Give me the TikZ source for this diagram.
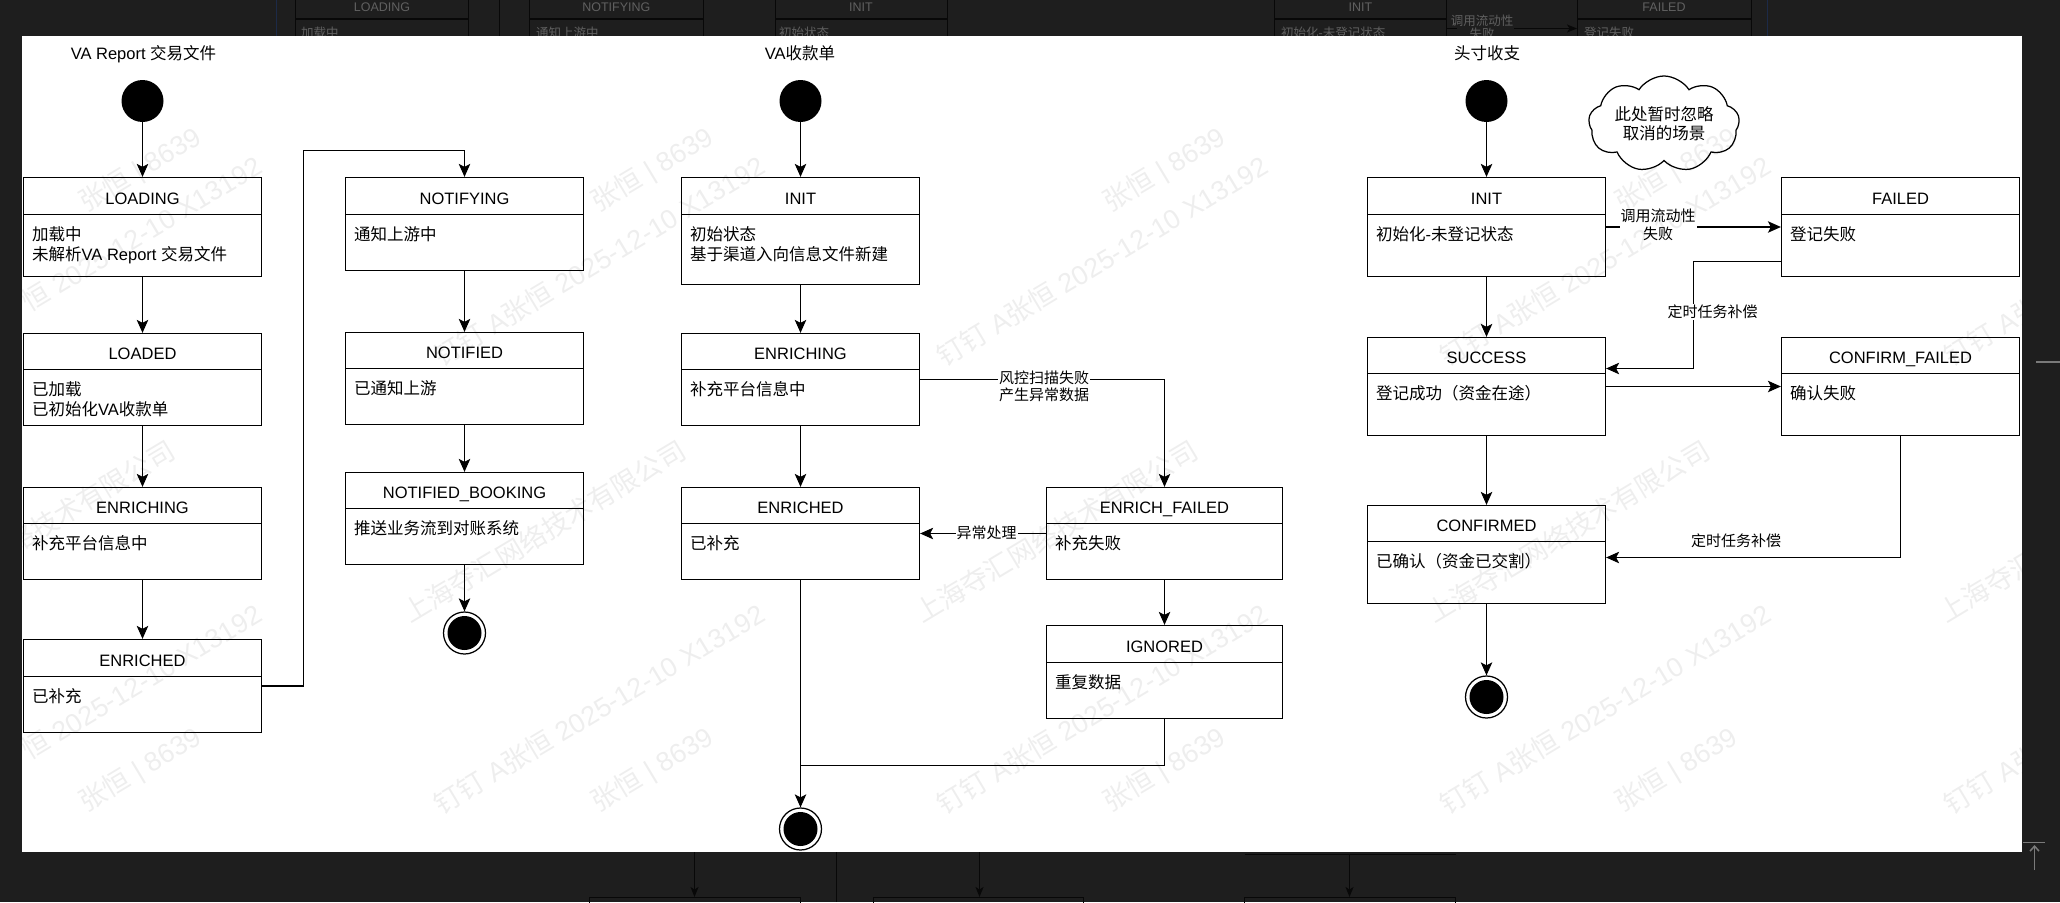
\documentclass[tikz,border=0pt]{standalone}
\usepackage{fontspec}
\setmainfont{Liberation Sans}
\newfontfamily\zhfont{Noto Sans CJK SC}
\newcommand\Z[1]{{\zhfont #1}}
\usetikzlibrary{arrows.meta,shapes.symbols}
\definecolor{bgdark}{HTML}{1E1E1E}
\definecolor{remline}{HTML}{080808}
\definecolor{remtext}{HTML}{606060}
\definecolor{remblue}{HTML}{1C2A48}
\definecolor{remicon}{HTML}{7A7A7A}
\tikzset{
  stbox/.style={draw=black, line width=1.25pt, fill=white, inner sep=0pt},
  divline/.style={draw=black, line width=1.25pt},
  sttitle/.style={anchor=base, inner sep=0pt, font=\fontsize{16.5}{19.8}\selectfont},
  stbody/.style={anchor=base west, inner sep=0pt, font=\fontsize{16.5}{19.8}\selectfont},
  ttl/.style={anchor=base, inner sep=0pt, font=\fontsize{16.5}{19.8}\selectfont},
  conn/.style={draw=black, line width=1.15pt, -{Stealth[length=13pt,width=11.5pt,inset=3pt]}},
  plainconn/.style={draw=black, line width=1.15pt},
  elabel/.style={fill=white, inner sep=1pt, align=center, font=\fontsize{15}{17.5}\selectfont},
  startst/.style={circle, fill=black, minimum size=42pt, inner sep=0pt},
  endst/.style={circle, draw=black, line width=1.25pt, fill=white, minimum size=42pt, inner sep=0pt,
    path picture={\fill[black] (path picture bounding box.center) circle (17pt);}},
  rembox/.style={draw=remline, line width=1.5pt},
  remt/.style={text=remtext, inner sep=0pt, font=\fontsize{12.5}{15}\selectfont},
  remarrow/.style={draw=remline, line width=1.5pt, -{Stealth[length=10pt,width=8pt,inset=2.5pt]}},
  wm/.style={rotate=31, anchor=east, inner sep=0pt, text=black, text opacity=0.065, font=\fontsize{27}{30}\selectfont},
}
\newcommand\statebox[9]{%
  \node[stbox, minimum width={#4-#2}, minimum height={#5-#3}] (#1) at ({(#2+#4)/2},{(#3+#5)/2}) {};
  \draw[divline] (#2,#6) -- (#4,#6);
  \node[sttitle] (#1t) at ({(#2+#4)/2},{(#3+#6)/2+8}) {#7};
  \node[stbody] (#1a) at (#2+8.5,#6+25.7) {#8};
  \if\relax\detokenize{#9}\relax\else
  \node[stbody] (#1b) at (#2+8.5,#6+45.7) {#9};\fi
}
\begin{document}
\begin{tikzpicture}[x=1pt,y=-1pt]
\useasboundingbox (0,0) rectangle (2060,902);
\fill[bgdark] (0,0) rectangle (2060,902);
% ---------- background remnants (top) ----------
\draw[remblue, line width=1.3pt] (276.5,0) -- (276.5,40);
\draw[remblue, line width=1.3pt] (1767.5,0) -- (1767.5,40);
\draw[rembox] (295.5,-5) rectangle (468.5,40); \draw[rembox] (295.5,19) -- (468.5,19);
\draw[remline, line width=1.5pt] (499.5,0) -- (499.5,40);
\draw[rembox] (529.5,-5) rectangle (703.5,40); \draw[rembox] (529.5,19) -- (703.5,19);
\draw[rembox] (775.5,-5) rectangle (947.5,40); \draw[rembox] (775.5,19) -- (947.5,19);
\draw[rembox] (1274.5,-5) rectangle (1446.5,40); \draw[rembox] (1274.5,19) -- (1446.5,19);
\draw[rembox] (1577.5,-5) rectangle (1751.5,40); \draw[rembox] (1577.5,19) -- (1751.5,19);
\node[remt] (rt1) at (382,7.5) {LOADING};
\node[remt, anchor=west] (rt2) at (301,33) {\Z{加载中}};
\node[remt] (rt3) at (616.3,7.5) {NOTIFYING};
\node[remt, anchor=west] (rt4) at (536,33) {\Z{通知上游中}};
\node[remt] (rt5) at (861,7.5) {INIT};
\node[remt, anchor=west] (rt6) at (779,33) {\Z{初始状态}};
\node[remt] (rt7) at (1360.5,7.5) {INIT};
\node[remt, anchor=west] (rt8) at (1281,33) {\Z{初始化}-\Z{未登记状态}};
\node[remt] (rt9) at (1664,7.5) {FAILED};
\node[remt, anchor=west] (rt10) at (1584,33) {\Z{登记失败}};
\node[remt] (rt11) at (1482,20.7) {\Z{调用流动性}};
\node[remt] (rt12) at (1482,34) {\Z{失败}};
\coordinate (ra1) at (1446.5,28.5);
\coordinate (ra2) at (1457,28.5);
\coordinate (ra3) at (1514,28.5);
\draw[remline, line width=1.5pt] (ra1) -- (ra2);
\draw[remarrow] (ra3) -- (1577,28.5);
% ---------- background remnants (bottom) ----------
\draw[remarrow] (694.5,850) -- (694.5,897);
\draw[rembox] (589.5,897.5) rectangle (800.5,910);
\draw[remline, line width=1.5pt] (836.5,850) -- (836.5,902);
\draw[remarrow] (979.5,850) -- (979.5,897);
\draw[rembox] (873.5,897.5) rectangle (1083.5,910);
\draw[remline, line width=1.5pt] (1244.5,854.5) -- (1455.5,854.5);
\draw[remarrow] (1349.5,854.5) -- (1349.5,897);
\draw[rembox] (1244.5,897.5) rectangle (1455.5,910);
\draw[remicon, line width=2pt] (2036,362) -- (2060,362);
\draw[remicon, line width=1.5pt] (2023,842.5) -- (2045,842.5);
\draw[remicon, line width=1.5pt, -{Straight Barb[length=5pt,width=9pt]}] (2034.5,870) -- (2034.5,845);
% ---------- canvas ----------
\fill[white] (22,36) rectangle (2022,852);
% ---------- titles ----------
\node[ttl] (title1) at (143.5,59) {VA Report \Z{交易文件}};
\node[ttl] (title2) at (800,59) {VA\Z{收款单}};
\node[ttl] (title3) at (1487,59) {\Z{头寸收支}};
% ---------- column 1 ----------
\statebox{loading}{23.5}{177.5}{261.5}{276.5}{214.5}{LOADING}{\Z{加载中}}{\Z{未解析}VA Report \Z{交易文件}}
\statebox{loaded}{23.5}{333.5}{261.5}{425.5}{369.5}{LOADED}{\Z{已加载}}{\Z{已初始化}VA\Z{收款单}}
\statebox{enrichingA}{23.5}{487.5}{261.5}{579.5}{523.5}{ENRICHING}{\Z{补充平台信息中}}{}
\statebox{enrichedA}{23.5}{639.5}{261.5}{732.5}{676.5}{ENRICHED}{\Z{已补充}}{}
\statebox{notifying}{345.5}{177.5}{583.5}{270.5}{214.5}{NOTIFYING}{\Z{通知上游中}}{}
\statebox{notified}{345.5}{332.5}{583.5}{424.5}{368.5}{NOTIFIED}{\Z{已通知上游}}{}
\statebox{booking}{345.5}{472.5}{583.5}{564.5}{508.5}{NOTIFIED\_BOOKING}{\Z{推送业务流到对账系统}}{}
\node[startst] (s1) at (142.5,101) {};
\node[endst] (e1) at (464.5,633) {};
\draw[conn] (s1.south) -- (loading.north);
\draw[conn] (loading.south) -- (loaded.north);
\draw[conn] (loaded.south) -- (enrichingA.north);
\draw[conn] (enrichingA.south) -- (enrichedA.north);
\coordinate (r1) at (303.5,150.5);
\draw[conn] (enrichedA.east) -| (r1) -| (notifying.north);
\draw[conn] (notifying.south) -- (notified.north);
\draw[conn] (notified.south) -- (booking.north);
\draw[conn] (booking.south) -- (e1.north);
% ---------- column 2 ----------
\statebox{initB}{681.5}{177.5}{919.5}{284.5}{214.5}{INIT}{\Z{初始状态}}{\Z{基于渠道入向信息文件新建}}
\statebox{enrichingB}{681.5}{333.5}{919.5}{425.5}{369.5}{ENRICHING}{\Z{补充平台信息中}}{}
\statebox{enrichedB}{681.5}{487.5}{919.5}{579.5}{523.5}{ENRICHED}{\Z{已补充}}{}
\statebox{efailed}{1046.5}{487.5}{1282.5}{579.5}{523.5}{ENRICH\_FAILED}{\Z{补充失败}}{}
\statebox{ignored}{1046.5}{625.5}{1282.5}{718.5}{662.5}{IGNORED}{\Z{重复数据}}{}
\node[startst] (s2) at (800.5,101) {};
\node[endst] (e2) at (800.5,829) {};
\draw[conn] (s2.south) -- (initB.north);
\draw[conn] (initB.south) -- (enrichingB.north);
\draw[conn] (enrichingB.south) -- (enrichedB.north);
\draw[conn] (enrichingB.east) -| (efailed.north);
\node[elabel] (lb1) at (1044,386.4) {\Z{风控扫描失败}\\\Z{产生异常数据}};
\draw[conn] (efailed.west) -- (enrichedB.east);
\node[elabel] (lb2) at (986.6,533.3) {\Z{异常处理}};
\draw[conn] (efailed.south) -- (ignored.north);
\draw[conn] (enrichedB.south) -- (e2.north);
\coordinate (j2) at (800.5,765.5);
\draw[plainconn] (ignored.south) |- (j2);
% ---------- column 3 ----------
\statebox{initC}{1367.5}{177.5}{1605.5}{276.5}{214.5}{INIT}{\Z{初始化}-\Z{未登记状态}}{}
\statebox{failedC}{1781.5}{177.5}{2019.5}{276.5}{214.5}{FAILED}{\Z{登记失败}}{}
\statebox{success}{1367.5}{337.5}{1605.5}{435.5}{373.5}{SUCCESS}{\Z{登记成功（资金在途）}}{}
\statebox{cfailed}{1781.5}{337.5}{2019.5}{435.5}{373.5}{CONFIRM\_FAILED}{\Z{确认失败}}{}
\statebox{confirmed}{1367.5}{505.5}{1605.5}{603.5}{541.5}{CONFIRMED}{\Z{已确认（资金已交割）}}{}
\node[startst] (s3) at (1486.5,101) {};
\node[endst] (e3) at (1486.5,697) {};
\node[cloud, draw=black, line width=1.25pt, fill=white, cloud puffs=9, cloud puff arc=115,
      cloud ignores aspect, minimum width=151pt, minimum height=96pt, inner sep=0pt,
      align=center, font=\fontsize{16.5}{19}\selectfont] (note) at (1664,124) {\Z{此处暂时忽略}\\\Z{取消的场景}};
\draw[conn] (s3.south) -- (initC.north);
\draw[conn] (initC.east) -- (failedC.west);
\node[elabel] (lb3) at (1658,225) {\Z{调用流动性}\\\Z{失败}};
\draw[conn] (initC.south) -- (success.north);
\coordinate (r3a) at (1693.5,261.5);
\coordinate (r3b) at (1693.5,368.5);
\draw[conn] (failedC.west |- r3a) -- (r3a) -- (r3b) -- (success.east |- r3b);
\node[elabel] (lb4) at (1712.6,311.7) {\Z{定时任务补偿}};
\draw[conn] (success.east) -- (cfailed.west);
\draw[conn] (success.south) -- (confirmed.north);
\coordinate (r3c) at (1900.5,557.5);
\draw[conn] (cfailed.south) -- (r3c) -- (confirmed.east |- r3c);
\node[elabel] (lb5) at (1736,540.7) {\Z{定时任务补偿}};
\draw[conn] (confirmed.south) -- (e3.north);
% ---------- watermarks ----------
\begin{scope}
\clip (22,36) rectangle (2022,852);
\foreach \wy in {163,611}{
  \node[wm] (wma-0-\wy) at (259,\wy) {\Z{恒} 2025-12-10 X13192};
  \foreach \wx in {762,1265,1768}{
    \node[wm] (wma-\wx-\wy) at (\wx,\wy) {\Z{钉钉} A\Z{张恒} 2025-12-10 X13192};
  }
  \node[wm, anchor=west] (wma-4-\wy) at (1946,\wy+195.5) {\Z{钉钉} A\Z{张}};
}
\foreach \wx in {199,711,1223,1735}{
  \foreach \wy in {135,735}{
    \node[wm] (wmb-\wx-\wy) at (\wx,\wy) {\Z{张恒} | 8639};
  }
}
\node[wm] (wmc-0) at (172,448) {\Z{络技术有限公司}};
\foreach \wx in {683,1195,1707}{
  \node[wm] (wmc-\wx) at (\wx,448) {\Z{上海夺汇网络技术有限公司}};
}
\node[wm, anchor=west] (wmc-4) at (1941.3,614.9) {\Z{上海夺汇}};
\end{scope}
\end{tikzpicture}
\end{document}
